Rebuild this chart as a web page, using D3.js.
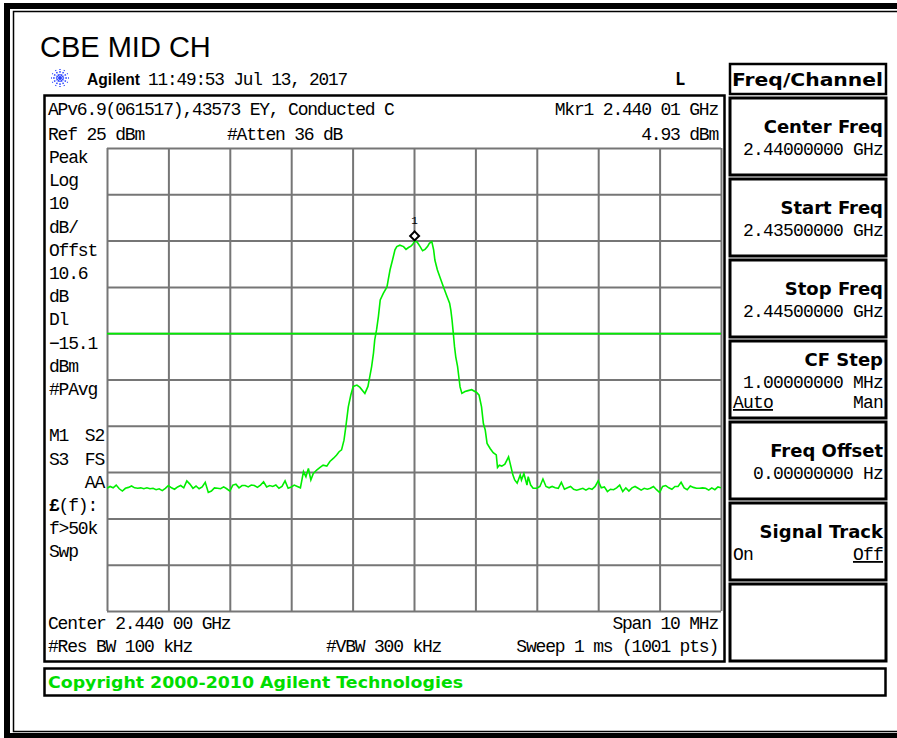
<!DOCTYPE html>
<html>
<head>
<meta charset="utf-8">
<script src="https://cdn.jsdelivr.net/npm/d3@7"></script>
<style>
  html, body { margin: 0; padding: 0; overflow: hidden; background: #fff; }
  svg { display: block; }
</style>
</head>
<body>
<svg width="897" height="738"></svg>
<script>
// sweep settings (MHz / dBm)
var startMHz = 2435, stopMHz = 2445;
var refLevel = 25, bottomLevel = -75;
var displayLine = -15.1;
var marker = [2440.01, 4.93];

// noise floor below the carrier, one value every 0.05 MHz from 2435.00
var noiseLow = [
  -48.5, -48.1, -48.4, -47.8, -48.6, -49.1, -48.5, -48.3, -48.0, -48.4,
  -48.5, -48.4, -48.6, -48.4, -48.6, -48.5, -48.8, -48.6, -49.0, -48.5,
  -47.9, -48.4, -48.7, -48.2, -47.9, -48.4, -46.9, -47.6, -48.5, -48.0,
  -48.6, -48.2, -47.2, -49.4, -49.1, -48.4, -48.5, -48.6, -48.2, -48.6,
  -49.1, -47.8, -47.6, -48.4, -47.9, -47.9, -48.2, -47.8, -47.9, -48.3,
  -47.8, -47.1, -48.2, -47.9, -48.1, -47.8, -48.5, -48.1, -46.9, -48.5,
  -48.2, -47.8, -48.1, -48.4
];

// the carrier itself, [MHz, dBm]
var carrier = [
  [2438.20, -44.9], [2438.24, -46.0], [2438.28, -44.2], [2438.32, -46.7], [2438.36, -45.3],
  [2438.42, -44.5], [2438.47, -44.0], [2438.52, -43.5], [2438.58, -43.7], [2438.63, -42.7],
  [2438.69, -42.0], [2438.74, -41.3], [2438.78, -40.6], [2438.82, -40.2], [2438.86, -38.1],
  [2438.89, -35.2], [2438.93, -30.9], [2438.97, -28.4], [2439.01, -26.5], [2439.07, -26.2],
  [2439.12, -26.7], [2439.20, -28.0], [2439.25, -26.5], [2439.28, -24.4], [2439.31, -22.2],
  [2439.34, -19.3], [2439.36, -16.5], [2439.39, -14.3], [2439.42, -11.4], [2439.45, -7.8],
  [2439.50, -6.4], [2439.56, -5.0], [2439.58, -3.5], [2439.61, -1.3], [2439.65, 0.8],
  [2439.69, 3.0], [2439.72, 3.7], [2439.77, 4.0], [2439.83, 3.7], [2439.87, 3.1],
  [2439.91, 3.5], [2439.95, 3.8], [2439.98, 4.2], [2440.01, 4.93], [2440.05, 4.7],
  [2440.10, 3.7], [2440.14, 2.8], [2440.18, 3.1], [2440.22, 3.7], [2440.25, 4.4],
  [2440.29, 4.8], [2440.32, 3.0], [2440.34, 0.8], [2440.38, -1.3], [2440.42, -2.8],
  [2440.48, -5.0], [2440.53, -6.8], [2440.58, -8.5], [2440.60, -10.0], [2440.62, -12.2],
  [2440.64, -15.0], [2440.66, -17.9], [2440.68, -20.1], [2440.71, -22.2], [2440.73, -24.4],
  [2440.75, -26.6], [2440.78, -28.0], [2440.83, -27.6], [2440.88, -27.4], [2440.94, -27.2],
  [2441.02, -27.8], [2441.06, -28.4], [2441.10, -30.9], [2441.13, -34.5], [2441.16, -35.9],
  [2441.19, -38.8], [2441.24, -39.9], [2441.29, -40.8], [2441.34, -41.3], [2441.36, -44.0],
  [2441.39, -43.5], [2441.43, -43.7], [2441.48, -43.3], [2441.54, -41.7], [2441.56, -42.8],
  [2441.61, -45.6], [2441.64, -46.7], [2441.68, -47.4], [2441.73, -45.6], [2441.75, -46.7],
  [2441.79, -45.3], [2441.84, -47.8], [2441.86, -46.0], [2441.90, -47.8], [2441.94, -48.5]
];

// noise floor above the carrier, one value every 0.05 MHz from 2442.00
var noiseHigh = [
  -48.5, -48.1, -46.5, -48.1, -48.4, -48.1, -48.4, -48.5, -47.2, -48.7,
  -48.4, -48.1, -48.7, -48.9, -48.7, -48.5, -48.9, -48.5, -48.7, -48.1,
  -46.9, -48.4, -48.2, -49.2, -48.7, -48.8, -48.4, -47.8, -49.2, -48.4,
  -49.1, -48.4, -48.1, -48.5, -48.9, -48.5, -48.7, -48.5, -48.1, -48.8,
  -49.4, -48.1, -47.9, -48.4, -48.7, -48.1, -48.1, -47.2, -48.4, -48.8,
  -48.0, -48.3, -48.5, -48.5, -48.4, -48.5, -48.9, -48.4, -48.8, -48.2,
  -48.4
];

// annotation text
var sideLabels = ["Peak", "Log", "10", "dB/", "Offst", "10.6", "dB", "Dl", "\u221215.1", "dBm",
                  "#PAvg", "", "M1", "S3", "", "(f):", "f>50k", "Swp"];
var sideRight = {12: "S2", 13: "FS", 14: "AA"};
var softTitles = ["Center Freq", "Start Freq", "Stop Freq", "CF Step", "Freq Offset", "Signal Track", ""];
var softValues = ["2.44000000 GHz", "2.43500000 GHz", "2.44500000 GHz", "1.00000000 MHz", "0.00000000  Hz", "", ""];

var svg = d3.select("svg");
var mono = "'Liberation Mono', 'DejaVu Sans Mono', monospace";
var sans = "'DejaVu Sans', sans-serif";
var green = "#00ee00";

svg.append("rect").attr("width", 897).attr("height", 738).attr("fill", "#fff");

function label(x, y, s, o) {
  o = o || {};
  var t = svg.append("text")
    .attr("x", x).attr("y", y)
    .attr("text-anchor", o.anchor || "start")
    .attr("fill", o.color || "#000")
    .style("font-family", o.family || mono)
    .style("font-size", (o.size || 18) + "px")
    .style("letter-spacing", (o.ls == null ? -1.2 : o.ls) + "px")
    .text(s);
  if (o.bold) t.style("font-weight", "bold");
  if (o.under) t.style("text-decoration", "underline");
  if (o.width) t.attr("textLength", o.width).attr("lengthAdjust", "spacingAndGlyphs");
  return t;
}

// outer page frame (runs off the right edge)
svg.append("rect").attr("x", 7).attr("y", 6).attr("width", 1000).attr("height", 730)
  .attr("fill", "none").attr("stroke", "#000").attr("stroke-width", 6);
svg.append("rect").attr("x", 13.5).attr("y", 11.5).attr("width", 1000).attr("height", 720)
  .attr("fill", "none").attr("stroke", "#000").attr("stroke-width", 1.5);

label(40, 57, "CBE MID CH", {family: "'Liberation Sans', Arial, sans-serif", size: 29, ls: 0});

// agilent spark logo
var logo = svg.append("g").attr("transform", "translate(60,78)");
logo.selectAll("line").data(d3.range(12)).enter().append("line")
  .attr("x1", function(d) { return 2.5 * Math.cos(d * Math.PI / 6); })
  .attr("y1", function(d) { return 2.5 * Math.sin(d * Math.PI / 6); })
  .attr("x2", function(d) { return 9 * Math.cos(d * Math.PI / 6); })
  .attr("y2", function(d) { return 9 * Math.sin(d * Math.PI / 6); })
  .attr("stroke", "#2740ff").attr("stroke-width", 1.4).attr("stroke-dasharray", "1.6,1.2");
logo.append("circle").attr("r", 2).attr("fill", "#2740ff");

label(87, 85, "Agilent", {family: "'Liberation Sans', Arial, sans-serif", size: 17, bold: true, ls: 0, width: 53});
label(148, 85, "11:49:53  Jul 13, 2017", {width: 199});
label(675, 85, "L", {bold: true, family: "'DejaVu Sans Mono', monospace", size: 17, ls: 0});

// soft key panel
svg.append("rect").attr("x", 730).attr("y", 64).attr("width", 156).attr("height", 30)
  .attr("fill", "none").attr("stroke", "#000").attr("stroke-width", 2.5);
label(732, 86, "Freq/Channel", {family: sans, size: 18, bold: true, ls: 0, width: 151});

var keys = svg.append("g");
softTitles.forEach(function(t, i) {
  var top = 98 + i * 81;
  keys.append("rect").attr("x", 730).attr("y", top).attr("width", 156).attr("height", 77)
    .attr("fill", "none").attr("stroke", "#000").attr("stroke-width", 3);
  var ty = top + 35, vy = top + 57;
  if (t === "CF Step") { ty = top + 25; vy = top + 47; }
  if (t) label(883, ty, t, {family: sans, size: 18, bold: true, ls: 0, anchor: "end"});
  if (softValues[i]) label(883, vy, softValues[i], {anchor: "end", ls: -0.8});
  if (t === "CF Step") {
    label(733, top + 67, "Auto", {under: true, ls: -0.8});
    label(883, top + 67, "Man", {anchor: "end", ls: -0.8});
  }
  if (t === "Signal Track") {
    label(733, vy, "On", {ls: -0.8});
    label(883, vy, "Off", {anchor: "end", under: true, ls: -0.8});
  }
});

// screen box and copyright bar
svg.append("rect").attr("x", 44.5).attr("y", 95.5).attr("width", 680).attr("height", 566)
  .attr("fill", "none").attr("stroke", "#000").attr("stroke-width", 2.5);
svg.append("rect").attr("x", 44.5).attr("y", 668.5).attr("width", 841).attr("height", 27)
  .attr("fill", "none").attr("stroke", "#000").attr("stroke-width", 2.5);
label(48, 688, "Copyright 2000-2010 Agilent Technologies", {family: sans, size: 16, bold: true, color: "#00dd00", ls: 0, width: 415});

label(48, 115, "APv6.9(061517),43573 EY, Conducted C");
label(718, 115, "Mkr1  2.440 01 GHz", {anchor: "end"});
label(48, 140, "Ref 25 dBm");
label(227, 140, "#Atten 36 dB");
label(718, 140, "4.93 dBm", {anchor: "end"});

sideLabels.forEach(function(s, i) {
  var yy = 163 + i * 23.2;
  if (s) {
    var t = label(49, yy, s);
    if (s === "(f):") {
      t.text("");
      t.append("tspan").style("font-weight", "bold").text("\u00a3");
      t.append("tspan").text("(f):");
    }
  }
  if (sideRight[i]) label(104, yy, sideRight[i], {anchor: "end"});
});

label(48, 629, "Center 2.440 00 GHz");
label(718, 629, "Span 10 MHz", {anchor: "end"});
label(48, 652, "#Res BW 100 kHz");
label(326, 652, "#VBW 300 kHz");
label(718, 652, "Sweep 1 ms (1001 pts)", {anchor: "end"});

// graticule
var x = d3.scaleLinear().domain([startMHz, stopMHz]).range([107, 721]);
var y = d3.scaleLinear().domain([bottomLevel, refLevel]).range([611, 148]);
var gridW = 721 - 107, gridH = 611 - 148;

svg.append("g").attr("transform", "translate(0,611)")
  .call(d3.axisBottom(x).tickValues(d3.range(startMHz, stopMHz + 1, 1)).tickSize(-gridH).tickFormat(""))
  .call(function(g) { g.select(".domain").remove(); })
  .selectAll("line").attr("stroke", "#767676").attr("stroke-width", 2);
svg.append("g").attr("transform", "translate(107,0)")
  .call(d3.axisLeft(y).tickValues(d3.range(bottomLevel, refLevel + 1, 10)).tickSize(-gridW).tickFormat(""))
  .call(function(g) { g.select(".domain").remove(); })
  .selectAll("line").attr("stroke", "#767676").attr("stroke-width", 2);

svg.append("defs").append("clipPath").attr("id", "plot")
  .append("rect").attr("x", 107).attr("y", 148).attr("width", gridW).attr("height", gridH);

// display line
svg.append("line")
  .attr("x1", x(startMHz)).attr("x2", x(stopMHz))
  .attr("y1", y(displayLine)).attr("y2", y(displayLine))
  .attr("stroke", green).attr("stroke-width", 1.6);

// trace
var trace = noiseLow.map(function(v, i) { return [startMHz + i * 0.05, v]; })
  .concat(carrier)
  .concat(noiseHigh.map(function(v, i) { return [2442 + i * 0.05, v]; }));

svg.append("path")
  .datum(trace)
  .attr("clip-path", "url(#plot)")
  .attr("fill", "none")
  .attr("stroke", green)
  .attr("stroke-width", 1.6)
  .attr("d", d3.line().x(function(d) { return x(d[0]); }).y(function(d) { return y(d[1]); }));

// marker 1
var mx = x(marker[0]), my = y(marker[1]);
svg.append("path")
  .attr("d", d3.symbol(d3.symbolSquare, 40)())
  .attr("transform", "translate(" + mx + "," + (my - 5) + ") rotate(45)")
  .attr("fill", "#fff").attr("stroke", "#000").attr("stroke-width", 2);
label(mx, my - 17, "1", {size: 11, anchor: "middle", ls: 0});

// keep the strip right of the soft keys blank
svg.append("rect").attr("x", 889).attr("y", 20).attr("width", 8).attr("height", 700).attr("fill", "#fff");
</script>
</body>
</html>
